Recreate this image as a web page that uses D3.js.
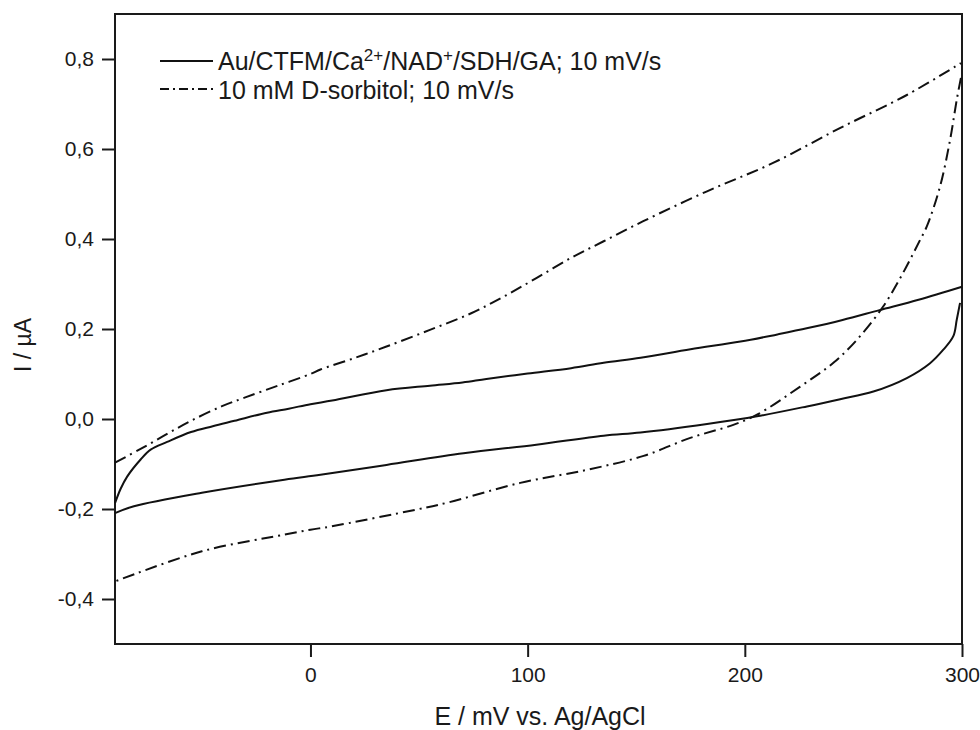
<!DOCTYPE html>
<html>

<head>
  <meta charset="utf-8">
  <title>CV sorbitol</title>
  <script type="text/javascript" src="https://cdn.jsdelivr.net/npm/d3@7/dist/d3.min.js"></script>
  <style type="text/css">
    body { margin: 0; background: #fff; }
    text { font-family: "Liberation Sans", Arial, sans-serif; fill: #1a1a1a; }
  </style>
</head>

<body>
  <script type="text/javascript">

    // Potential (mV) and current (uA)
    const blankFwdE = [-90, -87.4, -84.4, -78.2, -73.6, -66, -55, -45, -35, -20, -10, 0, 10, 35, 55, 70, 81, 100, 120, 135, 152, 175, 198, 215, 229, 245, 262, 280, 300];
    const blankFwdI = [-0.187, -0.155, -0.128, -0.09, -0.068, -0.051, -0.029, -0.016, -0.004, 0.014, 0.023, 0.033, 0.041, 0.064, 0.074, 0.081, 0.089, 0.101, 0.113, 0.125, 0.136, 0.155, 0.172, 0.188, 0.202, 0.22, 0.242, 0.265, 0.294];

    const blankRevE = [299.1, 297.6, 296, 291.4, 285.3, 274.6, 259.2, 243.9, 228.6, 205.6, 182.6, 152, 135, 104, 70.5, 35, 4.6, -12, -50, -81.3, -90];
    const blankRevI = [0.258, 0.221, 0.184, 0.154, 0.124, 0.091, 0.061, 0.044, 0.028, 0.006, -0.011, -0.03, -0.037, -0.057, -0.076, -0.102, -0.124, -0.135, -0.164, -0.194, -0.209];

    const sorbFwdE = [-90, -78, -66, -55, -41, -30, -15, 0, 4.6, 20, 35, 55, 74, 89, 104, 120, 135, 153, 182.6, 213, 244, 274.6, 299.5];
    const sorbFwdI = [-0.097, -0.066, -0.033, -0.004, 0.028, 0.048, 0.074, 0.1, 0.11, 0.135, 0.161, 0.198, 0.235, 0.272, 0.313, 0.358, 0.395, 0.439, 0.506, 0.569, 0.647, 0.72, 0.791];

    const sorbRevE = [299.5, 297.6, 294.5, 289.9, 283.8, 280.7, 272.9, 263.7, 251.6, 240.8, 225.5, 205.6, 194.7, 174.9, 153.4, 127.3, 96.6, 63, 49, 9.2, 0, -12, -50, -90];
    const sorbRevI = [0.758, 0.71, 0.62, 0.517, 0.428, 0.398, 0.325, 0.25, 0.176, 0.125, 0.072, 0.0095, -0.013, -0.042, -0.082, -0.113, -0.142, -0.186, -0.201, -0.239, -0.246, -0.257, -0.294, -0.361];

    const xMajor = [0, 100, 200, 300];
    const xMinor = [-50, 50, 150, 250];
    const yMajor = [-0.4, -0.2, 0, 0.2, 0.4, 0.6, 0.8];
    const yMinor = [-0.3, -0.1, 0.1, 0.3, 0.5, 0.7];

    // Width and height
    const w = 980;
    const h = 730;
    const margin = { top: 14, right: 18, bottom: 86, left: 115 };

    const x = d3.scaleLinear().domain([-90, 300]).range([margin.left, w - margin.right]);
    const y = d3.scaleLinear().domain([-0.5, 0.9]).range([h - margin.bottom, margin.top]);

    const svg = d3.select("body")
      .append("svg")
      .attr("width", w)
      .attr("height", h);

    const fmt = d => d3.format(".1f")(d).replace(".", ",").replace("\u2212", "-");

    // Axes
    const xAxis = svg.append("g").attr("transform", `translate(0,${h - margin.bottom})`);
    xAxis.call(d3.axisBottom(x).tickValues(xMinor).tickSize(7).tickFormat(""));
    xAxis.call(d3.axisBottom(x).tickValues(xMajor).tickSize(13).tickPadding(10).tickFormat(d3.format("d")));

    const yAxis = svg.append("g").attr("transform", `translate(${margin.left},0)`);
    yAxis.call(d3.axisLeft(y).tickValues(yMinor).tickSize(7).tickFormat(""));
    yAxis.call(d3.axisLeft(y).tickValues(yMajor).tickSize(13).tickPadding(8).tickFormat(fmt));

    svg.selectAll(".domain").remove();
    svg.selectAll(".tick line").attr("stroke", "#1a1a1a").attr("stroke-width", 2);
    svg.selectAll(".tick text").attr("font-size", 21).style("font-family", "'Liberation Sans', Arial, sans-serif").attr("fill", "#1a1a1a");

    // Frame
    svg.append("rect")
      .attr("x", margin.left)
      .attr("y", margin.top)
      .attr("width", w - margin.left - margin.right)
      .attr("height", h - margin.top - margin.bottom)
      .attr("fill", "none")
      .attr("stroke", "#1a1a1a")
      .attr("stroke-width", 2);

    // Curves
    const line = d3.line()
      .x(d => x(d[0]))
      .y(d => y(d[1]))
      .curve(d3.curveCatmullRom.alpha(0.5));

    const dashDot = "12,5,2,5";
    const branches = [
      { e: blankFwdE, i: blankFwdI, dash: null },
      { e: blankRevE, i: blankRevI, dash: null },
      { e: sorbFwdE, i: sorbFwdI, dash: dashDot },
      { e: sorbRevE, i: sorbRevI, dash: dashDot }
    ];

    svg.selectAll("path.curve")
      .data(branches)
      .enter()
      .append("path")
      .attr("class", "curve")
      .attr("d", b => line(b.e.map((e, k) => [e, b.i[k]])))
      .attr("fill", "none")
      .attr("stroke", "#111")
      .attr("stroke-width", 2)
      .attr("stroke-dasharray", b => b.dash);

    // Legend
    const legend = svg.append("g");
    legend.append("line")
      .attr("x1", 160).attr("x2", 213).attr("y1", 61).attr("y2", 61)
      .attr("stroke", "#111").attr("stroke-width", 2);
    legend.append("line")
      .attr("x1", 160).attr("x2", 213).attr("y1", 89).attr("y2", 89)
      .attr("stroke", "#111").attr("stroke-width", 2)
      .attr("stroke-dasharray", "9,4,2,4");

    const t1 = legend.append("text").attr("x", 218).attr("y", 70).attr("font-size", 25);
    t1.append("tspan").text("Au/CTFM/Ca");
    t1.append("tspan").attr("dy", -9).attr("font-size", 17).text("2+");
    t1.append("tspan").attr("dy", 9).text("/NAD");
    t1.append("tspan").attr("dy", -9).attr("font-size", 17).text("+");
    t1.append("tspan").attr("dy", 9).text("/SDH/GA; 10 mV/s");

    legend.append("text").attr("x", 218).attr("y", 99).attr("font-size", 25)
      .text("10 mM D-sorbitol; 10 mV/s");

    // Axis titles
    svg.append("text")
      .attr("x", 540)
      .attr("y", 725)
      .attr("text-anchor", "middle")
      .attr("font-size", 25)
      .text("E / mV vs. Ag/AgCl");

    svg.append("text")
      .attr("transform", "translate(31,345) rotate(-90)")
      .attr("text-anchor", "middle")
      .attr("font-size", 23)
      .text("I / \u00b5A");

  </script>
</body>

</html>
